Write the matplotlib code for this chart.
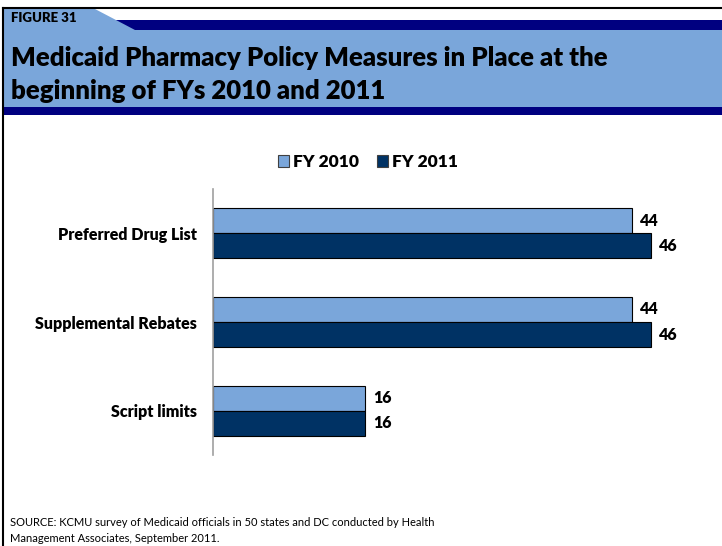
import matplotlib.pyplot as plt
from matplotlib.patches import Polygon, Patch
import numpy as np

categories = ["Preferred Drug List", "Supplemental Rebates", "Script limits"]
fy2010 = [44, 44, 16]
fy2011 = [46, 46, 16]
series_names = ["FY 2010", "FY 2011"]

light = "#7aa6da"
dark = "#003264"
navy = "#000080"

plt.rcParams['font.family'] = ['Lato', 'DejaVu Sans']
BOLD = 'heavy'

W, H = 722, 546
fig = plt.figure(figsize=(W / 100, H / 100), dpi=100)


def px(x, y):
    # pixel coords (origin top-left) -> figure fraction
    return (x / W, 1 - y / H)


def poly(pts, color):
    fig.patches.append(Polygon([px(*p) for p in pts], closed=True, transform=fig.transFigure,
                               facecolor=color, edgecolor='none', zorder=0))


# header banner
poly([(3, 9), (722, 9), (722, 108), (3, 108)], light)
poly([(95, 9), (722, 9), (722, 20), (116, 20)], "white")
poly([(116, 20), (722, 20), (722, 30), (135, 30)], navy)
poly([(3, 107), (722, 107), (722, 115), (3, 115)], navy)
fig.add_artist(plt.Line2D([3 / W, 1], [1 - 8 / H] * 2, color='black', lw=1.5, transform=fig.transFigure))
fig.add_artist(plt.Line2D([3 / W] * 2, [0, 1 - 8 / H], color='black', lw=1.5, transform=fig.transFigure))

fig.text(*px(11, 18), "FIGURE 31", fontsize=9.5, fontweight=BOLD, va='center', ha='left')
fig.text(*px(11, 58), "Medicaid Pharmacy Policy Measures in Place at the", fontsize=18.5,
         fontweight=BOLD, va='center', ha='left')
fig.text(*px(11, 91), "beginning of FYs 2010 and 2011", fontsize=18.5,
         fontweight=BOLD, va='center', ha='left')

fig.text(*px(10, 522), "SOURCE: KCMU survey of Medicaid officials in 50 states and DC conducted by Health",
         fontsize=8, va='center', ha='left')
fig.text(*px(10, 538), "Management Associates, September 2011.", fontsize=8, va='center', ha='left')

# plot area
left, right, top, bottom = 213, 689, 189, 455
ax = fig.add_axes([left / W, 1 - bottom / H, (right - left) / W, (bottom - top) / H])
y = np.arange(len(categories))
h = 0.283
b1 = ax.barh(y - h / 2, fy2010, height=h, color=light, edgecolor='black', linewidth=0.8)
b2 = ax.barh(y + h / 2, fy2011, height=h, color=dark, edgecolor='black', linewidth=0.8)
ax.set_ylim(len(categories) - 0.5, -0.5)
ax.set_xlim(0, 50)
for bars in (b1, b2):
    for r in bars:
        ax.text(r.get_width() + 0.8, r.get_y() + r.get_height() / 2, f"{r.get_width():.0f}",
                fontsize=11.5, fontweight=BOLD, va='center', ha='left')

ax.set_yticks(y)
ax.set_yticklabels(categories, fontsize=11.5, fontweight=BOLD)
ax.tick_params(axis='y', length=0, pad=11.5)
ax.set_xticks([])
for s in ('top', 'right', 'bottom'):
    ax.spines[s].set_visible(False)
ax.spines['left'].set_color('#a0a0a0')
ax.spines['left'].set_linewidth(1.2)

handles = [Patch(facecolor=light, edgecolor='#404040', lw=0.8),
           Patch(facecolor=dark, edgecolor='#404040', lw=0.8)]
fig.legend(handles, series_names, loc='center', bbox_to_anchor=px(368, 162), ncol=2, frameon=False,
           prop={'weight': BOLD, 'size': 12.5}, handlelength=0.65, handleheight=0.65, handletextpad=0.25,
           columnspacing=1.0)

fig.savefig("out.png", dpi=100)
